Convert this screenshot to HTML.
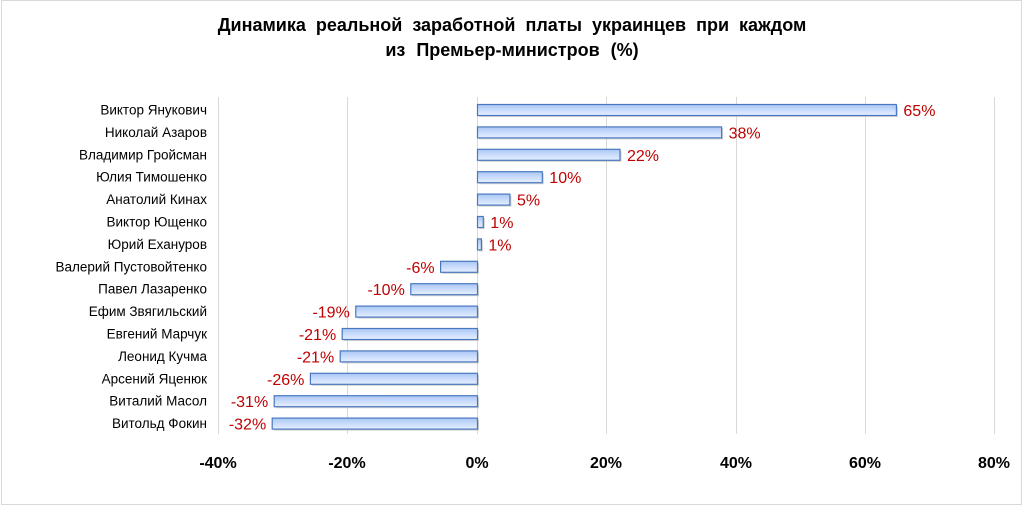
<!DOCTYPE html>
<html><head><meta charset="utf-8"><style>
body{margin:0;background:#fff;}
svg text{font-family:"Liberation Sans",sans-serif;}
</style></head><body>
<svg width="1024" height="522" xmlns="http://www.w3.org/2000/svg">
<defs>
<linearGradient id="g" x1="0" y1="0" x2="0" y2="1">
<stop offset="0" stop-color="#a9c6f5"/><stop offset="0.5" stop-color="#c9dcfb"/><stop offset="1" stop-color="#e6efff"/>
</linearGradient>
</defs>
<rect x="1.5" y="0.5" width="1020" height="504" fill="#fff" stroke="#d9d9d9"/>
<text x="512" y="31" text-anchor="middle" font-size="18" font-weight="bold" word-spacing="5">Динамика реальной заработной платы украинцев при каждом</text>
<text x="512" y="56" text-anchor="middle" font-size="18" font-weight="bold" word-spacing="6">из Премьер-министров (%)</text>
<g stroke="#d9d9d9" stroke-width="1">
<line x1="218.5" y1="97" x2="218.5" y2="434"/>
<line x1="347.5" y1="97" x2="347.5" y2="434"/>
<line x1="477.5" y1="97" x2="477.5" y2="434"/>
<line x1="606.5" y1="97" x2="606.5" y2="434"/>
<line x1="736.5" y1="97" x2="736.5" y2="434"/>
<line x1="865.5" y1="97" x2="865.5" y2="434"/>
<line x1="994.5" y1="97" x2="994.5" y2="434"/>
</g>
<g font-size="16" font-weight="bold" text-anchor="middle">
<text x="218" y="468">-40%</text><text x="347" y="468">-20%</text><text x="477" y="468">0%</text>
<text x="606" y="468">20%</text><text x="736" y="468">40%</text><text x="865" y="468">60%</text><text x="994" y="468">80%</text>
</g>
<g font-size="13.5" text-anchor="end">
<text x="207" y="114.5">Виктор Янукович</text>
<text x="207" y="136.9">Николай Азаров</text>
<text x="207" y="159.3">Владимир Гройсман</text>
<text x="207" y="181.7">Юлия Тимошенко</text>
<text x="207" y="204.1">Анатолий Кинах</text>
<text x="207" y="226.5">Виктор Ющенко</text>
<text x="207" y="248.9">Юрий Ехануров</text>
<text x="207" y="271.3">Валерий Пустовойтенко</text>
<text x="207" y="293.7">Павел Лазаренко</text>
<text x="207" y="316.1">Ефим Звягильский</text>
<text x="207" y="338.5">Евгений Марчук</text>
<text x="207" y="360.9">Леонид Кучма</text>
<text x="207" y="383.3">Арсений Яценюк</text>
<text x="207" y="405.7">Виталий Масол</text>
<text x="207" y="428.1">Витольд Фокин</text>
</g>
<g fill="#bfbfbf" opacity="0.7">
<rect x="479" y="106" width="418.9" height="11"/>
<rect x="479" y="128.4" width="244.1" height="11"/>
<rect x="479" y="150.8" width="142.5" height="11"/>
<rect x="479" y="173.2" width="64.8" height="11"/>
<rect x="479" y="195.6" width="32.4" height="11"/>
<rect x="479" y="218" width="5.8" height="11"/>
<rect x="479" y="240.4" width="3.9" height="11"/>
<rect x="442.1" y="262.8" width="36.9" height="11"/>
<rect x="412.3" y="285.2" width="66.7" height="11"/>
<rect x="357.3" y="307.6" width="121.7" height="11"/>
<rect x="343.7" y="330" width="135.3" height="11"/>
<rect x="341.7" y="352.4" width="137.3" height="11"/>
<rect x="311.9" y="374.8" width="167.1" height="11"/>
<rect x="275.7" y="397.2" width="203.3" height="11"/>
<rect x="273.7" y="419.6" width="205.3" height="11"/>
</g>
<g fill="url(#g)" stroke="#4a78c0" stroke-width="1.2">
<rect x="477.5" y="104.5" width="418.9" height="11"/>
<rect x="477.5" y="126.9" width="244.1" height="11"/>
<rect x="477.5" y="149.3" width="142.5" height="11"/>
<rect x="477.5" y="171.7" width="64.8" height="11"/>
<rect x="477.5" y="194.1" width="32.4" height="11"/>
<rect x="477.5" y="216.5" width="5.8" height="11"/>
<rect x="477.5" y="238.9" width="3.9" height="11"/>
<rect x="440.6" y="261.3" width="36.9" height="11"/>
<rect x="410.8" y="283.7" width="66.7" height="11"/>
<rect x="355.8" y="306.1" width="121.7" height="11"/>
<rect x="342.2" y="328.5" width="135.3" height="11"/>
<rect x="340.2" y="350.9" width="137.3" height="11"/>
<rect x="310.4" y="373.3" width="167.1" height="11"/>
<rect x="274.2" y="395.7" width="203.3" height="11"/>
<rect x="272.2" y="418.1" width="205.3" height="11"/>
</g>
<g font-size="16" fill="#c00000">
<text x="903.4" y="116">65%</text>
<text x="728.6" y="138.4">38%</text>
<text x="627" y="160.8">22%</text>
<text x="549.3" y="183.2">10%</text>
<text x="517" y="205.6">5%</text>
<text x="490.3" y="228">1%</text>
<text x="488.4" y="250.4">1%</text>
</g>
<g font-size="16" fill="#c00000" text-anchor="end">
<text x="434.6" y="272.8">-6%</text>
<text x="404.8" y="295.2">-10%</text>
<text x="349.8" y="317.6">-19%</text>
<text x="336.2" y="340">-21%</text>
<text x="334.2" y="362.4">-21%</text>
<text x="304.4" y="384.8">-26%</text>
<text x="268.2" y="407.2">-31%</text>
<text x="266.2" y="429.6">-32%</text>
</g>
</svg>
</body></html>
